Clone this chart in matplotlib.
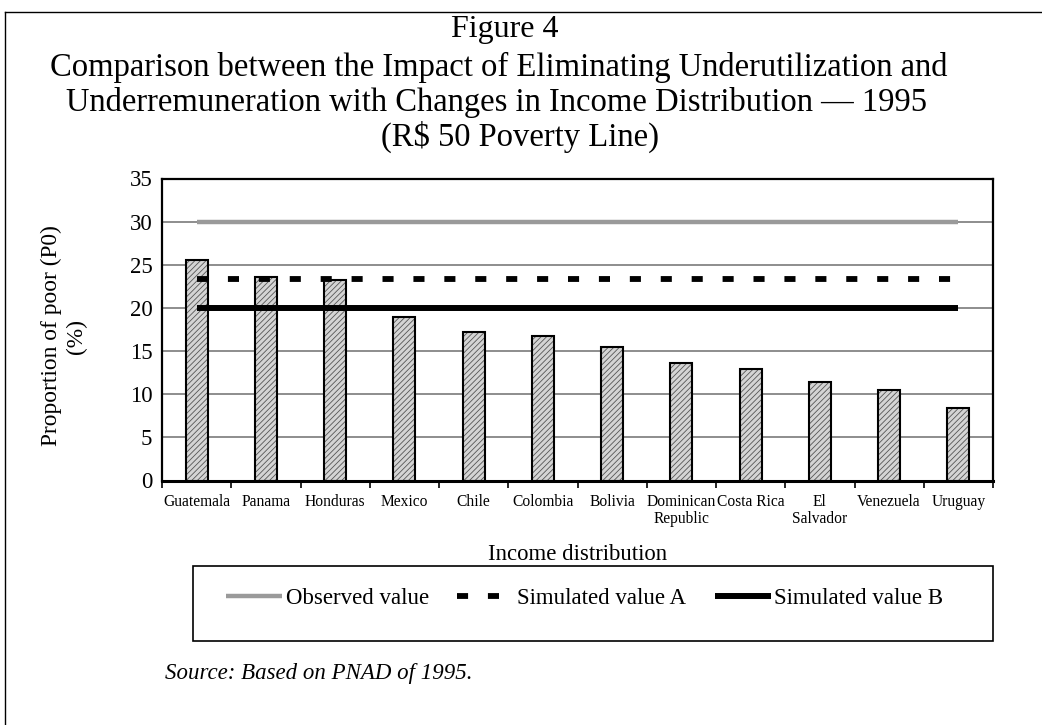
import matplotlib
matplotlib.use("Agg")
import matplotlib.pyplot as plt
from matplotlib.lines import Line2D
from matplotlib.patches import Rectangle
import numpy as np

plt.rcParams['font.family'] = ['Liberation Serif', 'DejaVu Serif']
plt.rcParams['hatch.linewidth'] = 0.6

countries = ["Guatemala", "Panama", "Honduras", "Mexico", "Chile", "Colombia",
             "Bolivia", "Dominican\nRepublic", "Costa Rica", "El\nSalvador",
             "Venezuela", "Uruguay"]
income_dist = [25.5, 23.6, 23.2, 18.9, 17.2, 16.7, 15.5, 13.6, 12.9, 11.4, 10.5, 8.4]
observed_value = 30.0
simulated_a = 23.3
simulated_b = 20.0
y_ticks = [0, 5, 10, 15, 20, 25, 30, 35]

fig = plt.figure(figsize=(10.42, 7.25), dpi=100)
W, H = 1042, 725

ax = fig.add_axes([162 / W, 1 - 480.5 / H, 831 / W, 302 / H])
x = np.arange(len(countries))

# hatched fill, then black outline on top
ax.bar(x, income_dist, width=0.32, color="#d4d4d4", edgecolor="#555555",
       hatch="//////", linewidth=0, zorder=2)
ax.bar(x, income_dist, width=0.32, fill=False, edgecolor="black",
       linewidth=1.5, zorder=3)

ax.plot([x[0], x[-1]], [observed_value] * 2, color="#9a9a9a", lw=3.2,
        solid_capstyle="butt", zorder=4, label="Observed value")
ax.plot([x[0], x[-1]], [simulated_a] * 2, color="black", lw=4.2,
        dashes=(1.9, 3.4), dash_capstyle="butt", zorder=4,
        label="Simulated value A")
ax.plot([x[0], x[-1]], [simulated_b] * 2, color="black", lw=4.3,
        solid_capstyle="butt", zorder=4, label="Simulated value B")

ax.set_xlim(-0.5, len(countries) - 0.5)
ax.set_ylim(0, 35)
ax.set_yticks(y_ticks)
ax.set_yticklabels([str(v) for v in y_ticks], fontsize=16.5)
ax.tick_params(axis="y", length=0, pad=7)
ax.yaxis.grid(True, color="#7a7a7a", lw=1.2)
ax.set_axisbelow(True)

ax.set_xticks(x)
ax.set_xticklabels(countries, fontsize=11.2, linespacing=1.05)
ax.set_xticks(np.arange(-0.5, len(countries), 1), minor=True)
ax.tick_params(axis="x", which="major", length=0, pad=10)
ax.tick_params(axis="x", which="minor", length=5, width=1.2, direction="out")

for s in ["left", "right", "top"]:
    ax.spines[s].set_linewidth(1.6)
ax.spines["bottom"].set_linewidth(2.2)

fig.text(64 / W, 1 - 336 / H, "Proportion of poor (P0)\n(%)", rotation=90,
         ha="center", va="center", fontsize=16.8, linespacing=1.2)

ax.set_xlabel("Income distribution", fontsize=16.4, labelpad=12)

# title
fig.text(505 / W, 1 - 30 / H, "Figure 4", ha="center", va="center", fontsize=23)
fig.text(499 / W, 1 - 67 / H,
         "Comparison between the Impact of Eliminating Underutilization and",
         ha="center", va="center", fontsize=23.5)
fig.text(497 / W, 1 - 102 / H,
         "Underremuneration with Changes in Income Distribution \u2014 1995",
         ha="center", va="center", fontsize=23.5)
fig.text(520 / W, 1 - 137 / H, "(R$ 50 Poverty Line)", ha="center",
         va="center", fontsize=23.5)

# legend box
fig.patches.append(Rectangle((193 / W, 1 - 641 / H), 800 / W, 75 / H,
                             transform=fig.transFigure, fill=False,
                             edgecolor="black", lw=1.2))
ax.legend(loc="center left", bbox_to_anchor=(226 / W, 1 - 598 / H),
          bbox_transform=fig.transFigure, ncol=3, frameon=False,
          fontsize=16.5, handlelength=2.45, handletextpad=0.15,
          columnspacing=1.25, borderpad=0, borderaxespad=0)

fig.text(165 / W, 1 - 673 / H, "Source: Based on PNAD of 1995.",
         fontsize=16.5, style="italic", ha="left", va="center")

# outer frame
fig.add_artist(Line2D([5 / W, 1], [1 - 12 / H, 1 - 12 / H],
                      transform=fig.transFigure, color="black", lw=1))
fig.add_artist(Line2D([5 / W, 5 / W], [0, 1 - 12 / H],
                      transform=fig.transFigure, color="black", lw=1))

fig.savefig("out.png", dpi=100)
